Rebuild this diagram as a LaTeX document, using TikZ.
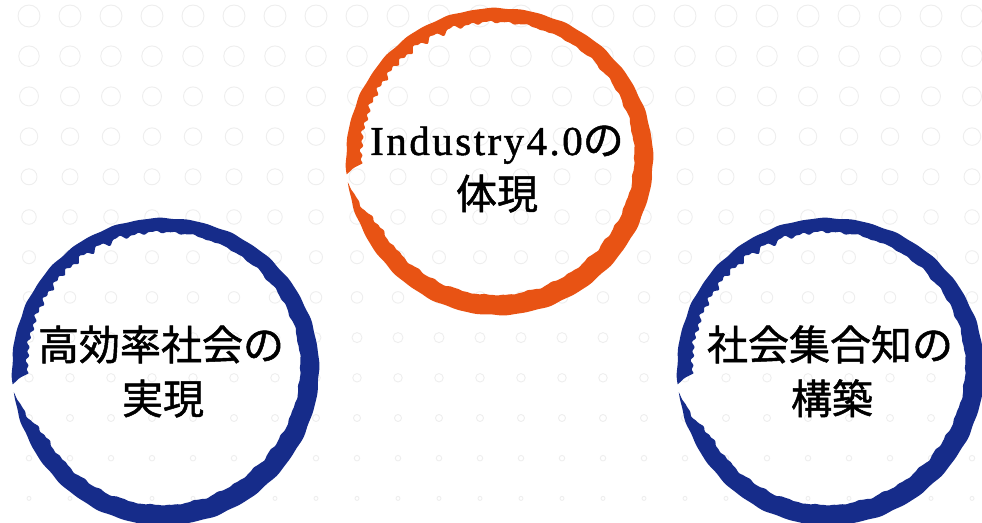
\documentclass[tikz,border=0pt]{standalone}
\usepackage{fontspec}
\newfontfamily\cjk[FakeBold=1.2]{Noto Sans CJK JP}
\newfontfamily\latinser[LetterSpace=6,FakeBold=1.2]{Liberation Serif}
\definecolor{ringorange}{RGB}{232,83,20}
\definecolor{ringblue}{RGB}{22,44,138}
\definecolor{bgring}{RGB}{238,238,238}
\tikzset{
  bgdot/.style={draw=bgring, line width=0.9pt},
  label/.style={font=\cjk\fontsize{41}{48}\selectfont, inner sep=0pt, anchor=base, text=black},
  declare function={
    ro(\t)=153.5+0.35*sin(24*mod(\t,15))+0.25*sin(40*mod(\t,9)+30)+0.8*sin(3*\t+40);
    rough(\t)=(0.35+2.4*max(0,cos(\t-150))^2)*(sin(72*mod(\t,5)+10)*sin(24*mod(\t,15)+50)+0.5*sin(45*mod(\t,8)));
    wd(\t)=(17+3.5*cos(\t-300)+0.5*sin(36*mod(\t,10))+rough(\t))*min(1,(\t-188)/20)*min(1,(545-\t)/4);
  }
}
\newcommand\brushring[3]{%
  \begin{scope}[shift={(#1,#2)}]
    \fill[#3] plot[domain=188:545, samples=900] (\x:{ro(\x)})
      -- plot[domain=545:188, samples=900] (\x:{ro(\x)-wd(\x)}) -- cycle;
  \end{scope}}
\begin{document}
\begin{tikzpicture}[x=1pt,y=1pt]
\useasboundingbox (0,0) rectangle (982,522);
\fill[white] (0,0) rectangle (982,522);
\clip (0,0) rectangle (982,522);
% background pattern of faint circles
\foreach \k [evaluate=\k as \r using 11-0.75*\k, evaluate=\k as \yy using 506-40.2*\k] in {0,...,12}{
  \foreach \j [evaluate=\j as \xx using 29+41*\j] in {-1,...,23}{
    \draw[bgdot] (\xx,\yy) circle[radius=\r pt];
  }
}
% brush rings
\brushring{499}{361}{ringorange}
\brushring{165}{151}{ringblue}
\brushring{830}{151}{ringblue}
% labels
\node[label] (t1) at (497,367) {{\latinser Industry4.0}の};
\node[label] (t2) at (497,313) {体現};
\node[label] (l1) at (161,162) {高効率社会の};
\node[label] (l2) at (163,108) {実現};
\node[label] (r1) at (830,162) {社会集合知の};
\node[label] (r2) at (832,108) {構築};
\end{tikzpicture}
\end{document}
